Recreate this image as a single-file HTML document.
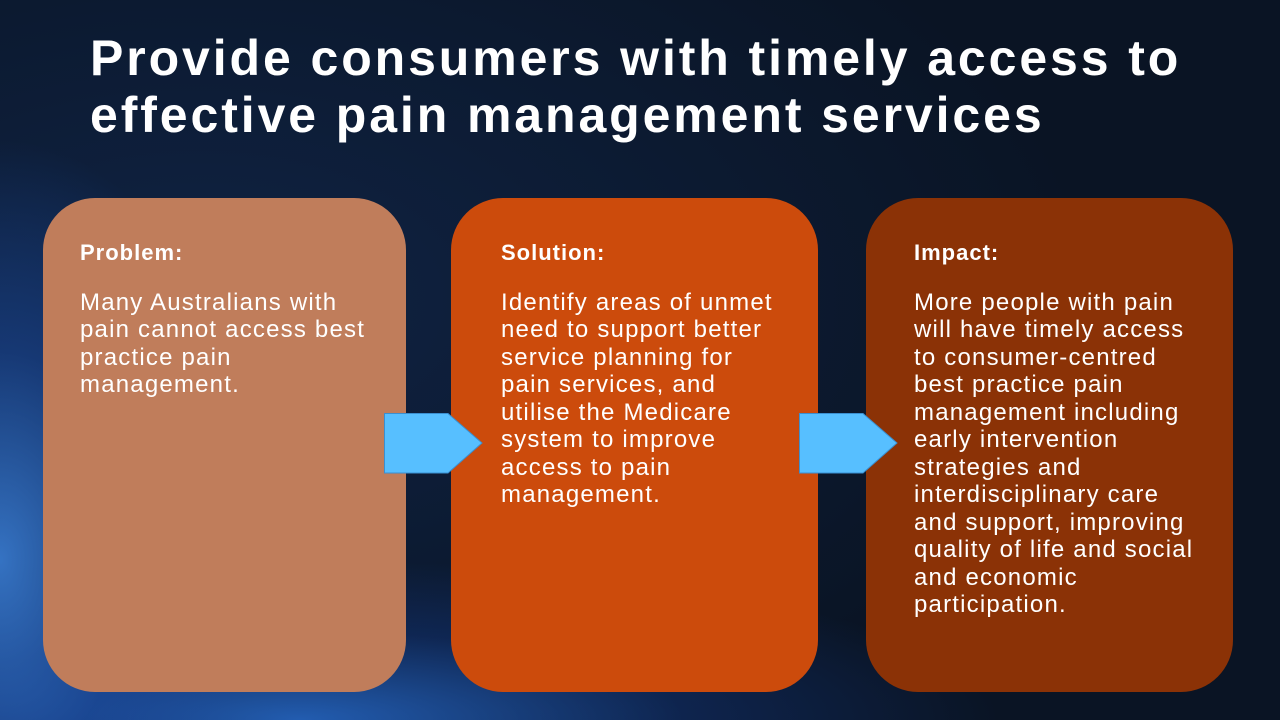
<!DOCTYPE html>
<html><head><style>
body{margin:0;width:1280px;height:720px;overflow:hidden;position:relative;font-family:"Liberation Sans",sans-serif;
background:
radial-gradient(ellipse 260px 420px at 0px 560px, rgba(60,130,220,0.85), rgba(30,80,170,0.5) 50%, rgba(0,0,0,0) 100%),
radial-gradient(ellipse 700px 160px at 300px 720px, rgba(40,110,210,0.8), rgba(20,60,140,0.4) 55%, rgba(0,0,0,0) 100%),
radial-gradient(ellipse 900px 500px at 200px 300px, rgba(20,50,100,0.5), rgba(0,0,0,0) 100%),
#0a1424;}
.t{position:absolute;left:90px;top:30px;color:#fff;font-weight:bold;font-size:50px;line-height:57px;letter-spacing:2.9px;white-space:nowrap;}
.b{position:absolute;top:198px;height:494px;border-radius:52px;color:#fff;font-size:24px;line-height:27.5px;letter-spacing:1.2px;box-sizing:border-box;padding-top:41px;white-space:nowrap;}
.b h{display:block;font-weight:bold;font-size:22px;letter-spacing:1px;margin-bottom:22px;}
.a{position:absolute;top:413px;}
</style></head><body>
<div class="t">Provide consumers with timely access to<br>effective pain management services</div>
<div class="b" style="left:43px;width:363px;background:#c07d5b;padding-left:37px">
<h>Problem:</h>Many Australians with<br>pain cannot access best<br>practice pain<br>management.</div>
<div class="b" style="left:451px;width:367px;background:#cc4b0c;padding-left:50px">
<h>Solution:</h>Identify areas of unmet<br>need to support better<br>service planning for<br>pain services, and<br>utilise the Medicare<br>system to improve<br>access to pain<br>management.</div>
<div class="b" style="left:866px;width:367px;background:#8b3206;padding-left:48px">
<h>Impact:</h>More people with pain<br>will have timely access<br>to consumer-centred<br>best practice pain<br>management including<br>early intervention<br>strategies and<br>interdisciplinary care<br>and support, improving<br>quality of life and social<br>and economic<br>participation.</div>
<svg class="a" style="left:384px" width="100" height="62"><polygon points="0.5,0.5 64,0.5 98,30 64,60 0.5,60" fill="#57bfff" stroke="#3a8fd0"/></svg>
<svg class="a" style="left:799px" width="100" height="62"><polygon points="0.5,0.5 64,0.5 98,30 64,60 0.5,60" fill="#57bfff" stroke="#3a8fd0"/></svg>
</body></html>
